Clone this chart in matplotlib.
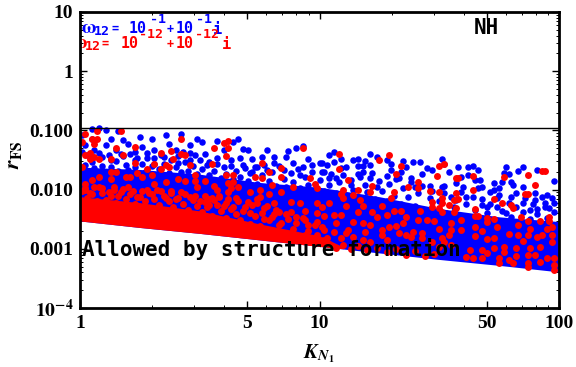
import numpy as np
import matplotlib
matplotlib.use('Agg')
import matplotlib.pyplot as plt
from matplotlib.ticker import FixedLocator, FixedFormatter, NullFormatter

plt.rcParams['font.family'] = ['Liberation Serif', 'DejaVu Sans']
plt.rcParams['mathtext.fontset'] = 'stix'

# values, as log10(K) and log10(r)
blue_logk = [.08,.05,.11,.16,.01,.05,.13,.18,.25,.30,.36,.42,.49,.02,.11,.20,.26,.37,.46,
             .06,.15,.23,.31,.40,.43,.48,.03,.09,.18,.28,.35,.46,.13,.23,.05,.41,.31,
             .51,.57,.66,.64,.68,.70,.78,.87,.90,.93,.86,.76,.72,.81,.81,.89,.95,.97,1.00,
             .52,.57,.63,.69,.74,.93,.60,.54,.67,.85,.78,1.02,.92,.72,
             1.06,1.04,1.09,1.06,1.01,1.03,1.14,1.16,1.19,1.21,1.24,1.28,1.30,1.21,1.18,1.16,
             1.11,1.09,1.35,1.39,1.42,1.51,1.45,1.47,1.36,1.34,1.28,1.33,1.38,1.43,1.52,1.51,
             1.04,1.07,1.17,1.21,1.18,1.30,1.13,1.24,1.40,1.46,
             1.58,1.62,1.64,1.66,1.54,1.59,1.62,1.65,1.67,1.68,1.57,1.60,1.66,1.52,
             1.78,1.77,1.79,1.76,1.73,1.80,1.81,1.75,1.73,1.71,1.85,1.83,1.91,1.98,1.85,
             1.95,1.93,1.97,1.90,1.90,1.82,1.80,1.75,1.85,1.91,1.68,1.70,1.74,1.78,1.88,
             1.96,1.98,1.94,1.61,1.57]
blue_logr = [-.96,-.98,-.99,-1.01,-1.08,-1.15,-1.15,-1.16,-1.11,-1.15,-1.08,-1.06,-1.15,-1.25,-1.25,-1.23,-1.28,-1.23,-1.25,
             -1.33,-1.33,-1.37,-1.33,-1.33,-1.37,-1.42,-1.42,-1.45,-1.43,-1.47,-1.45,-1.50,-1.50,-1.50,-1.53,-1.55,-1.57,
             -1.20,-1.18,-1.15,-1.20,-1.31,-1.33,-1.33,-1.35,-1.30,-1.26,-1.45,-1.45,-1.48,-1.45,-1.55,-1.55,-1.48,-1.58,-1.55,
             -1.40,-1.47,-1.60,-1.64,-1.62,-1.62,-1.33,-1.53,-1.47,-1.67,-1.67,-1.70,-1.75,-1.70,
             -1.37,-1.42,-1.48,-1.53,-1.55,-1.58,-1.50,-1.48,-1.52,-1.40,-1.45,-1.50,-1.57,-1.58,-1.60,-1.60,
             -1.62,-1.64,-1.52,-1.53,-1.53,-1.48,-1.64,-1.67,-1.62,-1.70,-1.77,-1.80,-1.80,-1.74,-1.57,-1.96,
             -1.80,-1.80,-1.79,-1.80,-1.70,-1.67,-1.92,-1.96,-1.96,-1.94,
             -1.62,-1.62,-1.60,-1.67,-1.70,-1.79,-1.75,-1.84,-1.84,-1.96,-1.89,-1.96,-1.97,-1.94,
             -1.62,-1.72,-1.74,-1.87,-1.89,-1.87,-1.92,-1.97,-2.01,-2.04,-1.62,-1.69,-1.67,-1.86,-1.96,
             -2.09,-2.13,-2.14,-2.06,-2.18,-2.06,-2.13,-2.09,-2.23,-2.33,-2.26,-2.29,-2.29,-2.40,-2.34,
             -2.31,-2.23,-2.23,-2.13,-2.18]

# denser blue just above the solid part, estimated by eye
blue2_logk = [.01,.02,.03,.05,.06,.08,.09,.10,.12,.13,.15,.16,.17,.19,.20,.21,.23,.24,.26,.27,.28,.30,.31,.33,.34,.35,.37,
              .38,.40,.41,.42,.44,.45,.46,.47,.49,.50,
              .51,.53,.54,.56,.57,.59,.60,.61,.63,.64,.65,.67,.68,.70,.71,.73,.74,.76,.77,.79,.80,.82,.83,.85,.86,.88,.89,
              .91,.92,.94,.95,.97,.98,1.00,
              1.01,1.02,1.04,1.05,1.07,1.08,1.10,1.11,1.13,1.14,1.16,1.17,1.19,1.20,1.22,1.23,1.25,1.26,1.28,1.29,1.31,1.32,
              1.34,1.35,1.37,1.38,1.40,1.41,1.43,1.44,1.46,1.47,1.49,1.50,
              1.52,1.53,1.55,1.56,1.58,1.59,1.61,1.62,1.64,1.65,1.67,1.68,1.70,1.71,1.73,1.74,1.76,1.77,1.79,1.80,1.82,1.83,
              1.85,1.86,1.88,1.89,1.91,1.92,1.94,1.95,1.97,1.98]
blue2_logr = [-1.36,-1.58,-1.68,-1.45,-1.63,-1.38,-1.60,-1.70,-1.41,-1.62,-1.52,-1.68,-1.40,-1.58,-1.67,-1.40,-1.62,-1.46,-1.56,-1.70,-1.38,-1.60,-1.47,-1.66,-1.42,-1.57,-1.72,
              -1.50,-1.62,-1.44,-1.70,-1.54,-1.68,-1.38,-1.60,-1.73,-1.50,
              -1.66,-1.58,-1.76,-1.68,-1.56,-1.80,-1.62,-1.74,-1.50,-1.82,-1.68,-1.78,-1.58,-1.86,-1.72,-1.62,-1.90,-1.76,-1.58,-1.86,-1.70,-1.94,-1.60,-1.82,-1.96,-1.72,-1.88,
              -1.66,-1.98,-1.78,-1.92,-1.70,-2.00,-1.84,
              -1.70,-2.02,-1.92,-1.74,-2.06,-1.88,-1.76,-2.10,-1.84,-2.00,-1.74,-2.14,-1.92,-2.04,-1.72,-2.16,-1.86,-2.02,-2.20,-1.90,-2.10,-1.82,
              -2.24,-1.98,-2.12,-1.88,-2.28,-2.06,-1.94,-2.34,-2.14,-2.02,-2.38,-2.20,
              -2.06,-2.40,-2.12,-2.30,-2.44,-2.04,-2.24,-2.46,-2.12,-2.34,-2.50,-2.16,-2.40,-2.24,-2.52,-2.14,-2.36,-2.54,-2.22,-2.46,-2.30,-2.56,
              -2.38,-2.14,-2.50,-2.24,-2.42,-2.58,-2.30,-2.48,-2.60,-2.38]

red_logk = [.07,.17,.02,.07,.05,.06,.01,.42,.23,.15,.38,.34,.18,.42,.44,.04,.02,.06,.04,.08,.13,.01,
            .23,.31,.39,.36,.37,.46,.34,.28,.24,.13,.15,.48,.08,.13,.19,.21,.26,.30,.05,.02,.31,.36,.41,.44,.48,.49,
            .60,.62,.56,.62,.61,.55,.93,.76,.84,.79,.61,.64,.73,.76,.84,.96,.64,.62,.80,.89,.98,.99,
            .52,.56,.57,.66,.63,.62,.71,.75,.79,.84,.75,.54,.58,
            1.08,1.29,1.34,1.25,1.08,1.32,1.12,1.22,1.41,1.37,1.41,1.49,1.50,1.52,1.46,1.50,1.51,
            1.10,1.16,1.21,1.31,1.30,1.09,1.14,1.17,1.10,1.01,1.04,1.11,1.18,1.26,1.31,1.42,1.47,1.47,1.50,
            1.22,1.16,1.28,1.34,1.36,1.24,1.09,1.06,1.02,1.35,1.41,1.45,1.48,1.18,1.14,1.07,1.12,1.21,1.29,1.32,
            1.26,1.19,1.06,1.02,1.11,1.39,1.43,1.50,1.33,1.26,1.36,1.09,1.03,1.18,1.21,1.28,1.43,1.47,1.50,1.14,1.38,
            1.57,1.58,1.64,1.77,1.87,1.93,1.94,1.90,1.64,1.57,1.86,1.87,1.73,1.76,1.80,1.81,1.58,1.56,1.54,1.57,1.56,
            1.51,1.51,1.65,1.65,1.66,1.59,1.55,1.70,1.73,1.84,1.87,1.92,1.96,1.96,1.70,1.65,1.59,1.55,1.68,1.74,1.83,
            1.88,1.95,1.97,1.79,1.83,1.87,1.91,1.97,1.93,1.65,1.54,1.70,1.73,1.85,1.97,1.92,1.88,1.82,1.77,1.73,1.68,
            1.63,1.51,1.52,1.55,1.82,1.87,1.90,1.95,1.98,1.77,1.75,1.70,1.68,1.64,1.61,1.79,1.87,1.92,1.98,1.98,1.75,1.81,1.87,
            .52,.55,.61,.65,.70,.74,.81,.88,.92,.99,.71,.77,.83,.88,.94,.99,.79,.84,.90,.95,1.01,.83,.88,.94,.99,.90,.96,1.02,
            .02,.08,.14,.20,.26,.32,.38,.44,.48]
red_logr = [-1.01,-1.01,-1.06,-1.15,-1.15,-1.23,-1.20,-1.15,-1.28,-1.30,-1.35,-1.38,-1.42,-1.40,-1.42,-1.38,-1.42,-1.45,-1.48,-1.48,-1.48,-1.62,
            -1.55,-1.57,-1.48,-1.58,-1.62,-1.58,-1.65,-1.65,-1.72,-1.70,-1.70,-1.75,-1.79,-1.82,-1.79,-1.79,-1.79,-1.75,-1.84,-1.91,-1.91,-1.87,-1.82,-1.85,-1.85,-1.96,
            -1.21,-1.18,-1.30,-1.30,-1.43,-1.57,-1.30,-1.55,-1.64,-1.70,-1.75,-1.75,-1.79,-1.80,-1.79,-1.80,-1.87,-1.89,-1.92,-1.96,-1.91,-1.97,
            -1.85,-1.94,-2.01,-1.96,-1.97,-2.04,-2.04,-2.01,-2.07,-2.04,-2.13,-2.16,-2.11,
            -1.40,-1.42,-1.60,-1.50,-1.65,-1.74,-1.84,-1.94,-1.87,-1.96,-1.97,-1.77,-1.60,-1.57,-2.02,-2.04,-2.14,
            -2.01,-2.01,-2.04,-2.04,-2.14,-2.07,-2.09,-2.18,-2.14,-2.29,-2.23,-2.28,-2.28,-2.28,-2.36,-2.36,-2.21,-2.29,-2.31,
            -2.38,-2.38,-2.43,-2.36,-2.46,-2.46,-2.43,-2.43,-2.45,-2.56,-2.51,-2.51,-2.53,-2.56,-2.55,-2.56,-2.68,-2.60,-2.63,-2.62,
            -2.68,-2.72,-2.72,-2.68,-2.73,-2.72,-2.73,-2.67,-2.73,-2.77,-2.77,-2.82,-2.82,-2.85,-2.89,-2.85,-2.82,-2.89,-2.97,-2.80,-2.80,
            -1.80,-1.80,-1.77,-1.79,-1.75,-1.69,-1.69,-1.92,-2.01,-2.06,-2.07,-2.07,-2.16,-2.23,-2.26,-2.31,-2.16,-2.18,-2.26,-2.31,-2.38,
            -2.23,-2.38,-2.33,-2.45,-2.45,-2.51,-2.56,-2.48,-2.50,-2.46,-2.53,-2.53,-2.46,-2.53,-2.55,-2.63,-2.68,-2.68,-2.70,-2.63,-2.60,
            -2.67,-2.67,-2.63,-2.75,-2.77,-2.77,-2.80,-2.77,-2.77,-2.78,-2.77,-2.83,-2.82,-2.87,-2.89,-2.97,-2.99,-2.99,-2.97,-2.99,-3.02,
            -3.02,-2.82,-2.89,-2.94,-3.12,-3.10,-3.10,-3.16,-3.16,-3.05,-3.16,-3.07,-3.16,-3.16,-3.14,-3.19,-3.24,-3.22,-3.27,-3.36,-3.24,-3.24,-3.31,
            -2.21,-2.14,-2.23,-2.14,-2.21,-2.23,-2.23,-2.21,-2.23,-2.23,-2.40,-2.31,-2.38,-2.38,-2.36,-2.40,-2.51,-2.56,-2.56,-2.60,-2.63,-2.72,-2.73,-2.77,-2.77,-2.85,-2.89,-2.85,
            -2.00,-1.96,-2.00,-1.95,-2.02,-2.00,-2.02,-2.07,-2.10]

# red along the top of the solid red part and near the lower edge
red2_logk = [.01,.03,.05,.07,.09,.11,.13,.15,.17,.19,.21,.23,.25,.27,.29,.31,.33,.35,.37,.39,.41,.43,.45,.47,.49,
             .51,.53,.55,.57,.59,.61,.63,.65,.67,.69,.71,.73,.75,.77,.79,.81,.83,.85,.87,.89,.91,.93,.95,.97,.99,
             1.0,1.04,1.07,1.1,1.13,1.16,1.2,1.24,1.28,1.32,1.36,1.4,1.44,1.48,
             .02,.04,.06,.09,.12,.14,.16,.18,.22,.24,.28,.3,.34,.36,.38,.4,.42,.46,.5,.52,
             .54,.56,.58,.6,.62,.64,.66,.68,.72,.74,.76,.78,.8,.82,.86,.9,.94,.98]
red2_logr = [-2.02,-2.15,-2.08,-2.2,-2.06,-2.18,-2.1,-2.22,-2.04,-2.16,-2.08,-2.24,-2.12,-2.2,-2.06,-2.16,-2.26,-2.1,-2.2,-2.3,-2.14,-2.24,-2.34,-2.18,-2.28,
             -2.38,-2.3,-2.44,-2.26,-2.36,-2.48,-2.32,-2.42,-2.52,-2.3,-2.58,-2.44,-2.62,-2.5,-2.68,-2.42,-2.6,-2.74,-2.5,-2.66,-2.8,-2.48,-2.7,-2.84,-2.55,
             -2.9,-2.92,-2.98,-2.94,-3.0,-2.96,-3.02,-2.98,-3.06,-3.0,-3.1,-3.04,-3.12,-3.08,
             -1.98,-2.05,-1.95,-1.98,-2.04,-1.96,-2.1,-1.99,-2.02,-2.12,-2.0,-2.08,-2.03,-2.14,-2.06,-2.16,-2.04,-2.12,-2.2,-2.1,
             -2.26,-2.18,-2.12,-2.28,-2.16,-2.3,-2.2,-2.36,-2.26,-2.16,-2.4,-2.28,-2.46,-2.34,-2.42,-2.46,-2.52,-2.6]

# edges of the solid part of the cloud
band_logk = [0, .25, .5, .75, 1, 1.25, 1.5, 1.75, 2]
band_low = [-2.53, -2.64, -2.74, -2.85, -2.96, -3.07, -3.18, -3.28, -3.39]
band_blue_top = [-1.62, -1.66, -1.74, -1.88, -1.96, -2.12, -2.32, -2.46, -2.54]
red_band_logk = [0, .25, .5, .75, 1, 1.1]
red_band_low = [-2.53, -2.64, -2.74, -2.85, -2.96, -3.0]
red_band_top = [-2.12, -2.22, -2.36, -2.58, -2.78, -2.97]

x_ticks = [1, 5, 10, 50, 100]
x_labels = ['1', '5', '10', '50', '100']
y_ticks = [1e-4, 1e-3, 1e-2, 1e-1, 1, 10]
y_labels = [r'$\mathbf{10^{-4}}$', '0.001', '0.010', '0.100', '1', '10']
r_line = 0.11

W, H = 576, 367
fig = plt.figure(figsize=(W / 100, H / 100), dpi=100)
ax = fig.add_axes([80 / W, (H - 308) / H, 479 / W, 296 / H])

ax.fill_between(10 ** np.array(band_logk), 10 ** np.array(band_low), 10 ** np.array(band_blue_top),
                color='#0000ff', lw=0, zorder=2)
ax.scatter(10 ** np.array(blue_logk + blue2_logk), 10 ** np.array(blue_logr + blue2_logr),
           s=22, c='#0000ff', lw=0, zorder=2)
ax.fill_between(10 ** np.array(red_band_logk), 10 ** np.array(red_band_low), 10 ** np.array(red_band_top),
                color='#ff0000', lw=0, zorder=3)
ax.scatter(10 ** np.array(red_logk + red2_logk), 10 ** np.array(red_logr + red2_logr),
           s=25, c='#ff0000', lw=0, zorder=3)
ax.axhline(r_line, color='k', lw=1, zorder=4)

ax.set_xscale('log')
ax.set_yscale('log')
ax.set_xlim(1, 100)
ax.set_ylim(1e-4, 10)

ax.xaxis.set_major_locator(FixedLocator(x_ticks))
ax.xaxis.set_major_formatter(FixedFormatter(x_labels))
ax.xaxis.set_minor_locator(FixedLocator([2, 3, 4, 6, 7, 8, 9, 20, 30, 40, 60, 70, 80, 90]))
ax.xaxis.set_minor_formatter(NullFormatter())
ax.yaxis.set_major_locator(FixedLocator(y_ticks))
ax.yaxis.set_major_formatter(FixedFormatter(y_labels))
ax.yaxis.set_minor_locator(FixedLocator([m * 10.0 ** e for e in range(-4, 1) for m in range(2, 10)]))
ax.yaxis.set_minor_formatter(NullFormatter())
ax.tick_params(which='major', direction='in', top=True, right=True, length=5, width=1, pad=5)
ax.tick_params(which='minor', direction='in', top=True, right=True, length=2.5, width=0.7)
ax.tick_params(axis='both', which='major', labelsize=14)
for lab in ax.get_xticklabels() + ax.get_yticklabels():
    lab.set_fontweight('bold')
for s in ax.spines.values():
    s.set_linewidth(2)
    s.set_zorder(6)


def put(x, y, s, color, size=11):
    # x, y in picture pixels, text baseline at y
    ax.text(x / W, 1 - y / H, s, transform=fig.transFigure, color=color, fontsize=size,
            family='DejaVu Sans Mono', weight='bold', va='baseline', ha='left', zorder=5, clip_on=True)


for row in [(81, 33, '#0000ff', '-1', 129, 150, 167, 176, 196, 213),
            (72, 48, '#ff0000', '-12', 121, 139, 167, 176, 195, 222)]:
    x0, y0, col, exp, x10, xe, xp, x10b, xeb, xi = row
    put(x0, y0, r'$\mathbf{\omega}$', col, 14)
    put(x0 + 13, y0 + 2, '12', col, 9.5)
    put(x0 + 30, y0 - 1, '=', col, 8.5)
    put(x10, y0, '10', col, 10.8)
    put(xe, y0 - 10, exp, col, 9.5)
    put(xp, y0, '+', col, 8.5)
    put(x10b, y0, '10', col, 10.8)
    put(xeb, y0 - 10, exp, col, 9.5)
    put(xi, y0 + 1, 'i', col, 11)

put(474, 34, 'NH', 'k', 15)
put(82, 256, 'Allowed by structure formation', 'k', 15)

fig.text(319 / W, 1 - 358 / H, r'$\mathbfit{K}_{\mathbfit{N}_{\mathbf{1}}}$', fontsize=15, ha='center', va='baseline')
fig.text(15 / W, 1 - 155 / H, r'$\mathbfit{r}_{\mathbf{FS}}$', fontsize=16, rotation=90, ha='center', va='center')

fig.savefig('out.png', dpi=100)
